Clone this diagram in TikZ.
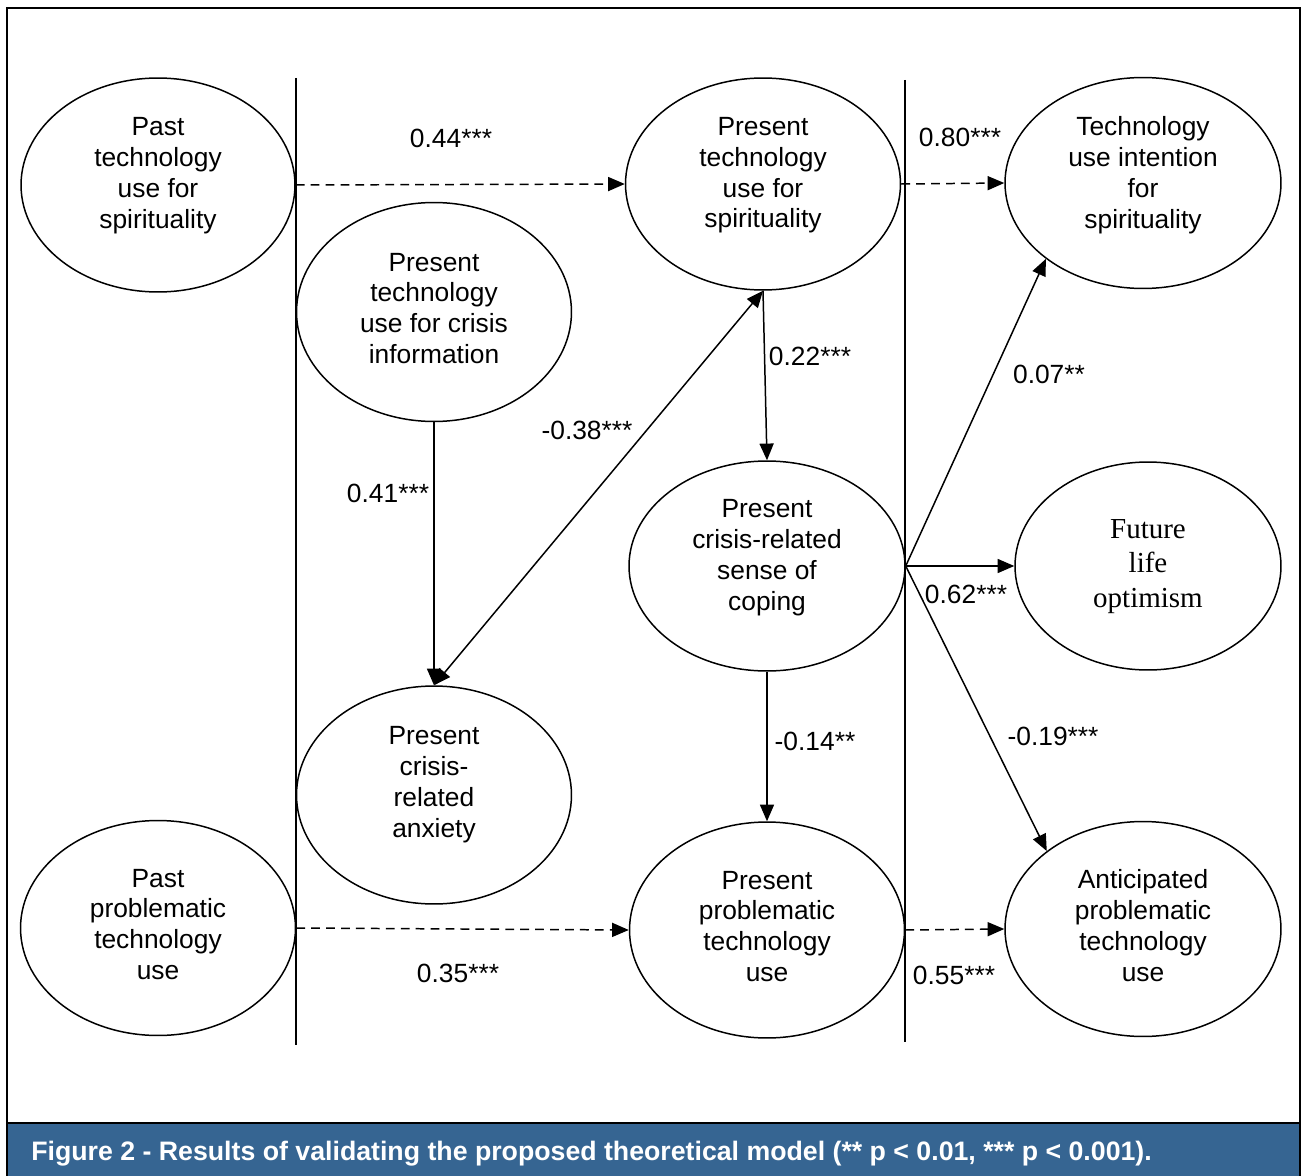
\documentclass[tikz,border=0pt]{standalone}
\usepackage{fontspec}
\setmainfont{Liberation Sans}
\newfontfamily\serifopt{Liberation Serif}
\usepackage{tikz}
\usetikzlibrary{shapes.geometric, arrows.meta, positioning}
\definecolor{CapBlue}{RGB}{54, 101, 146}

\begin{document}
\begin{tikzpicture}[x=0.02cm, y=-0.02cm,
        var/.style={ellipse, draw=black, line width=0.85pt, minimum width=5.5cm, minimum height=4.3cm, inner sep=0pt},
        vtext/.style={align=center, font=\fontsize{15}{17.6}\selectfont, inner sep=0pt},
        coef/.style={font=\fontsize{15}{18}\selectfont, inner sep=0pt},
        path/.style={line width=0.85pt, -{Triangle[length=9.5pt, width=8pt]}},
        carry/.style={path, dash pattern=on 5pt off 3.5pt},
        divider/.style={line width=0.85pt}
    ]
        \useasboundingbox (0,0) rectangle (1302,1176);

        % Marco y barra del pie de figura
        \fill[CapBlue] (7,1124) rectangle (1300,1176);
        \draw[line width=1.4pt] (7,1176) -- (7,8) -- (1300,8) -- (1300,1176);
        \draw[line width=1.4pt] (7,1123) -- (1300,1123);
        \node[anchor=west, text=white, font=\fontsize{15.2}{18}\selectfont\bfseries, inner sep=0pt] (cap) at (31,1154)
            {Figure 2 - Results of validating the proposed theoretical model (** p < 0.01, *** p < 0.001).};

        % Separadores verticales entre pasado, presente y futuro
        \draw[divider] (296,78) -- (296,1045);
        \draw[divider] (905,80) -- (905,1042);

        % Variables (columna pasado)
        \node[var, minimum width=5.48cm, minimum height=4.28cm,
            label={[vtext, yshift=5.5pt]center:Past\\technology\\use for\\spirituality}] (pastspi) at (158,185) {};
        \node[var,
            label={[vtext, yshift=2pt]center:Past\\problematic\\technology\\use}] (pastprob) at (158,928) {};

        % Variables (columna presente)
        \node[var, minimum height=4.38cm,
            label={[vtext, yshift=2pt]center:Present\\technology\\use for crisis\\information}] (crisinfo) at (434,312) {};
        \node[var, minimum height=4.36cm,
            label={[vtext, yshift=6pt]center:Present\\crisis-\\related\\anxiety}] (anxiety) at (434,795) {};
        \node[var, minimum height=4.24cm,
            label={[vtext, yshift=5pt]center:Present\\technology\\use for\\spirituality}] (presspi) at (763,184) {};
        \node[var, minimum width=5.52cm, minimum height=4.2cm,
            label={[vtext, yshift=4.6pt]center:Present\\crisis-related\\sense of\\coping}] (coping) at (767,566) {};
        \node[var, minimum height=4.32cm,
            label={[vtext, yshift=2pt]center:Present\\problematic\\technology\\use}] (presprob) at (767,930) {};

        % Variables (columna futuro)
        \node[var, minimum width=5.52cm, minimum height=4.22cm,
            label={[vtext, yshift=4.6pt]center:Technology\\use intention\\for\\spirituality}] (intent) at (1143,183) {};
        \node[var, minimum width=5.32cm, minimum height=4.16cm,
            label={[vtext, font=\serifopt\fontsize{16.5}{19.4}\selectfont, yshift=-0.3pt]center:Future\\life\\optimism}] (optim) at (1148,566) {};
        \node[var, minimum width=5.52cm,
            label={[vtext, yshift=2pt]center:Anticipated\\problematic\\technology\\use}] (antprob) at (1143,929) {};

        % Rutas de continuidad (discontinuas)
        \draw[carry] (pastspi.east) -- (presspi.west);
        \draw[carry] (presspi.east) -- (intent.west);
        \draw[carry] (pastprob.east) -- (presprob.west);
        \draw[carry] (presprob.east) -- (antprob.west);

        % Rutas estructurales
        \draw[path] (crisinfo.south) -- (anxiety.north);
        \draw[path, {Triangle[length=9.5pt, width=8pt]}-{Triangle[length=9.5pt, width=8pt]}] (anxiety.north) -- (presspi.south);
        \draw[path] (presspi.south) -- (coping.north);
        \draw[path] (coping.south) -- (presprob.north);
        \draw[path] (coping.east) -- (intent.218);
        \draw[path] (coping.east) -- (optim.west);
        \draw[path] (coping.east) -- (antprob.141);

        % Coeficientes
        \node[coef] (c044) at (451,138) {0.44***};
        \node[coef] (c080) at (960,137) {0.80***};
        \node[coef] (c041) at (388,493) {0.41***};
        \node[coef] (c038) at (587,430) {-0.38***};
        \node[coef] (c022) at (810,356) {0.22***};
        \node[coef] (c007) at (1049,374) {0.07**};
        \node[coef] (c062) at (966,594) {0.62***};
        \node[coef] (c019) at (1053,736) {-0.19***};
        \node[coef] (c014) at (815,741) {-0.14**};
        \node[coef] (c035) at (458,973) {0.35***};
        \node[coef] (c055) at (954,975) {0.55***};
    \end{tikzpicture}
\end{document}
